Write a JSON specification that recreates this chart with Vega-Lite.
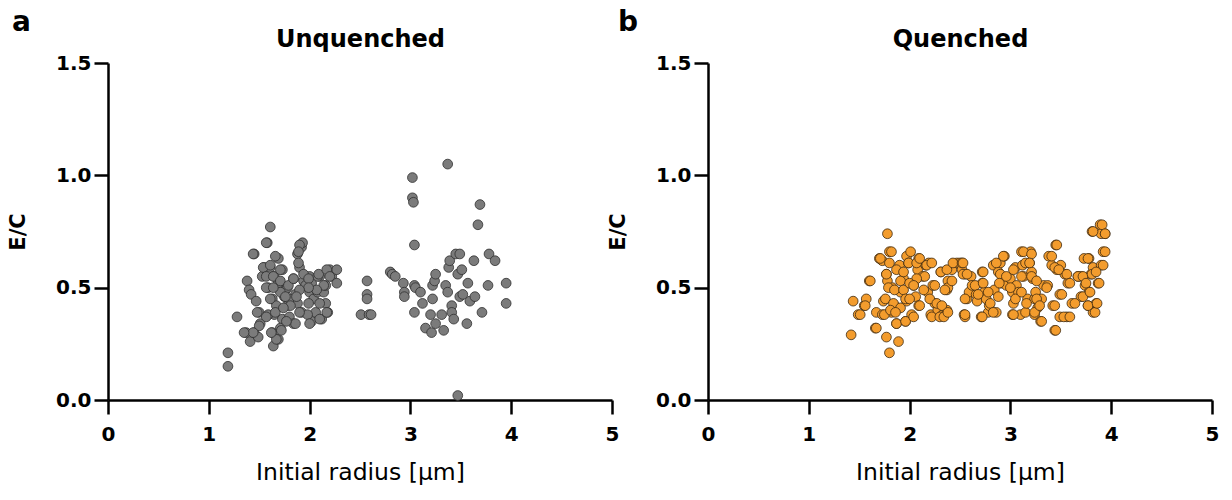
{
  "$schema": "https://vega.github.io/schema/vega-lite/v6.json",
  "background": "white",
  "padding": {"left": 7, "top": 9, "right": 5, "bottom": 5},
  "spacing": 96,
  "bounds": "flush",
  "datasets": {
    "unq": [
      {"r":1.19,"ec":0.21},{"r":1.19,"ec":0.15},{"r":1.28,"ec":0.37},{"r":1.38,"ec":0.53},{"r":1.40,"ec":0.49},{"r":1.42,"ec":0.47},{"r":1.45,"ec":0.65},{"r":1.47,"ec":0.44},{"r":1.37,"ec":0.30},{"r":1.41,"ec":0.26},{"r":1.45,"ec":0.30},{"r":1.49,"ec":0.28},{"r":1.50,"ec":0.39},{"r":1.51,"ec":0.34},{"r":1.53,"ec":0.55},{"r":1.55,"ec":0.59},{"r":1.58,"ec":0.70},{"r":1.61,"ec":0.77},{"r":1.59,"ec":0.50},{"r":1.63,"ec":0.45},{"r":1.65,"ec":0.38},{"r":1.63,"ec":0.30},{"r":1.64,"ec":0.24},{"r":1.69,"ec":0.27},{"r":1.69,"ec":0.63},{"r":1.61,"ec":0.59},{"r":1.65,"ec":0.55},{"r":1.73,"ec":0.58},{"r":1.69,"ec":0.52},{"r":1.76,"ec":0.49},{"r":1.75,"ec":0.46},{"r":1.73,"ec":0.36},{"r":1.71,"ec":0.32},{"r":1.78,"ec":0.42},{"r":1.80,"ec":0.37},{"r":1.84,"ec":0.34},{"r":1.86,"ec":0.47},{"r":1.88,"ec":0.65},{"r":1.90,"ec":0.59},{"r":1.92,"ec":0.68},{"r":1.93,"ec":0.70},{"r":1.88,"ec":0.43},{"r":1.92,"ec":0.39},{"r":1.94,"ec":0.53},{"r":1.96,"ec":0.51},{"r":2.00,"ec":0.55},{"r":2.02,"ec":0.52},{"r":2.00,"ec":0.48},{"r":2.04,"ec":0.45},{"r":2.02,"ec":0.35},{"r":2.08,"ec":0.48},{"r":2.10,"ec":0.55},{"r":2.12,"ec":0.36},{"r":2.14,"ec":0.48},{"r":2.16,"ec":0.43},{"r":2.16,"ec":0.51},{"r":2.18,"ec":0.39},{"r":2.20,"ec":0.58},{"r":2.22,"ec":0.55},{"r":2.27,"ec":0.58},{"r":2.27,"ec":0.52},{"r":2.06,"ec":0.39},{"r":1.98,"ec":0.38},{"r":2.08,"ec":0.55},{"r":1.84,"ec":0.54},{"r":1.78,"ec":0.50},{"r":1.80,"ec":0.45},{"r":1.71,"ec":0.48},{"r":1.67,"ec":0.42},{"r":1.59,"ec":0.38},
      {"r":1.57,"ec":0.70},{"r":1.44,"ec":0.65},{"r":1.66,"ec":0.64},{"r":1.90,"ec":0.69},{"r":1.89,"ec":0.66},{"r":1.54,"ec":0.59},{"r":1.61,"ec":0.60},{"r":1.71,"ec":0.58},{"r":1.89,"ec":0.61},{"r":1.57,"ec":0.55},{"r":1.64,"ec":0.55},{"r":1.57,"ec":0.50},{"r":1.64,"ec":0.50},{"r":1.61,"ec":0.45},{"r":1.71,"ec":0.53},{"r":1.79,"ec":0.51},{"r":1.84,"ec":0.54},{"r":1.94,"ec":0.56},{"r":1.99,"ec":0.54},{"r":2.09,"ec":0.56},{"r":2.17,"ec":0.58},{"r":2.20,"ec":0.55},{"r":2.14,"ec":0.51},{"r":2.07,"ec":0.49},{"r":1.99,"ec":0.50},{"r":1.90,"ec":0.49},{"r":1.87,"ec":0.46},{"r":1.99,"ec":0.43},{"r":2.10,"ec":0.43},{"r":2.17,"ec":0.39},{"r":2.10,"ec":0.36},{"r":2.00,"ec":0.34},{"r":1.90,"ec":0.39},{"r":1.86,"ec":0.34},{"r":1.77,"ec":0.35},{"r":1.72,"ec":0.31},{"r":1.67,"ec":0.27},{"r":1.62,"ec":0.30},{"r":1.66,"ec":0.39},{"r":1.57,"ec":0.37},{"r":1.50,"ec":0.33},{"r":1.48,"ec":0.39},{"r":1.44,"ec":0.30},{"r":1.35,"ec":0.30},{"r":1.76,"ec":0.46},{"r":1.81,"ec":0.42},{"r":1.74,"ec":0.41},
      {"r":2.57,"ec":0.53},{"r":2.57,"ec":0.47},{"r":2.57,"ec":0.45},{"r":2.51,"ec":0.38},{"r":2.59,"ec":0.38},{"r":2.61,"ec":0.38},
      {"r":2.80,"ec":0.57},{"r":2.82,"ec":0.56},{"r":2.85,"ec":0.55},{"r":2.93,"ec":0.52},{"r":2.94,"ec":0.48},{"r":2.94,"ec":0.46},{"r":3.02,"ec":0.99},{"r":3.02,"ec":0.90},{"r":3.03,"ec":0.88},{"r":3.04,"ec":0.69},{"r":3.04,"ec":0.51},{"r":3.04,"ec":0.39},{"r":3.05,"ec":0.50},{"r":3.10,"ec":0.48},{"r":3.12,"ec":0.43},{"r":3.15,"ec":0.32},{"r":3.20,"ec":0.38},{"r":3.21,"ec":0.30},{"r":3.22,"ec":0.45},{"r":3.22,"ec":0.51},{"r":3.24,"ec":0.53},{"r":3.25,"ec":0.56},{"r":3.25,"ec":0.34},{"r":3.31,"ec":0.38},{"r":3.33,"ec":0.31},{"r":3.35,"ec":0.51},{"r":3.37,"ec":1.05},{"r":3.38,"ec":0.59},{"r":3.39,"ec":0.62},{"r":3.37,"ec":0.48},{"r":3.41,"ec":0.42},{"r":3.41,"ec":0.39},{"r":3.43,"ec":0.36},{"r":3.45,"ec":0.65},{"r":3.49,"ec":0.65},{"r":3.47,"ec":0.02},{"r":3.47,"ec":0.56},{"r":3.49,"ec":0.46},{"r":3.51,"ec":0.58},{"r":3.52,"ec":0.47},{"r":3.56,"ec":0.34},{"r":3.57,"ec":0.52},{"r":3.59,"ec":0.44},{"r":3.63,"ec":0.62},{"r":3.64,"ec":0.46},{"r":3.67,"ec":0.78},{"r":3.69,"ec":0.87},{"r":3.71,"ec":0.39},{"r":3.78,"ec":0.65},{"r":3.77,"ec":0.51},{"r":3.84,"ec":0.62},{"r":3.95,"ec":0.52},{"r":3.95,"ec":0.43}
    ],
    "q": [
      {"r":1.42,"ec":0.29},{"r":1.44,"ec":0.44},{"r":1.49,"ec":0.38},{"r":1.55,"ec":0.42},{"r":1.57,"ec":0.45},{"r":1.60,"ec":0.53},{"r":1.66,"ec":0.32},{"r":1.67,"ec":0.39},{"r":1.70,"ec":0.63},{"r":1.73,"ec":0.62},{"r":1.73,"ec":0.38},{"r":1.74,"ec":0.44},{"r":1.77,"ec":0.28},{"r":1.78,"ec":0.74},{"r":1.80,"ec":0.66},{"r":1.80,"ec":0.21},{"r":1.77,"ec":0.56},{"r":1.78,"ec":0.53},{"r":1.80,"ec":0.61},{"r":1.82,"ec":0.39},{"r":1.83,"ec":0.50},{"r":1.85,"ec":0.42},{"r":1.87,"ec":0.34},{"r":1.89,"ec":0.26},{"r":1.90,"ec":0.60},{"r":1.91,"ec":0.48},{"r":1.94,"ec":0.54},{"r":1.96,"ec":0.35},{"r":1.97,"ec":0.64},{"r":1.97,"ec":0.44},{"r":1.99,"ec":0.61},{"r":2.01,"ec":0.66},{"r":2.02,"ec":0.38},{"r":2.04,"ec":0.51},{"r":2.06,"ec":0.46},{"r":2.08,"ec":0.58},{"r":2.09,"ec":0.63},{"r":2.09,"ec":0.42},{"r":2.13,"ec":0.55},{"r":2.16,"ec":0.60},{"r":2.18,"ec":0.48},{"r":2.19,"ec":0.61},{"r":2.21,"ec":0.38},{"r":2.23,"ec":0.51},{"r":2.25,"ec":0.43},{"r":2.28,"ec":0.40},{"r":2.31,"ec":0.57},{"r":2.33,"ec":0.38},{"r":2.37,"ec":0.40},{"r":2.37,"ec":0.49},{"r":2.38,"ec":0.53},{"r":2.42,"ec":0.58},{"r":2.47,"ec":0.61},{"r":2.50,"ec":0.61},{"r":2.52,"ec":0.58},{"r":2.54,"ec":0.38},{"r":2.55,"ec":0.56},{"r":2.57,"ec":0.45},{"r":2.59,"ec":0.48},{"r":2.61,"ec":0.55},{"r":2.62,"ec":0.51},{"r":2.66,"ec":0.47},{"r":2.67,"ec":0.44},{"r":2.71,"ec":0.37},{"r":2.72,"ec":0.57},{"r":2.72,"ec":0.52},{"r":2.74,"ec":0.48},{"r":2.76,"ec":0.45},{"r":2.78,"ec":0.39},{"r":2.79,"ec":0.42},{"r":2.83,"ec":0.60},{"r":2.84,"ec":0.49},{"r":2.86,"ec":0.39},{"r":2.88,"ec":0.57},{"r":2.90,"ec":0.61},{"r":2.91,"ec":0.52},{"r":2.94,"ec":0.64},{"r":2.96,"ec":0.51},{"r":3.00,"ec":0.54},{"r":3.02,"ec":0.38},{"r":3.02,"ec":0.48},{"r":3.03,"ec":0.43},{"r":3.05,"ec":0.59},{"r":3.06,"ec":0.51},{"r":3.08,"ec":0.48},{"r":3.10,"ec":0.38},{"r":3.11,"ec":0.66},{"r":3.12,"ec":0.60},{"r":3.13,"ec":0.55},{"r":3.15,"ec":0.39},{"r":3.17,"ec":0.45},{"r":3.19,"ec":0.61},{"r":3.20,"ec":0.66},{"r":3.21,"ec":0.57},{"r":3.22,"ec":0.54},{"r":3.24,"ec":0.45},{"r":3.24,"ec":0.38},{"r":3.25,"ec":0.48},{"r":3.27,"ec":0.41},{"r":3.30,"ec":0.35},{"r":3.31,"ec":0.45},{"r":3.33,"ec":0.51},{"r":3.37,"ec":0.51},{"r":3.38,"ec":0.64},{"r":3.41,"ec":0.60},{"r":3.42,"ec":0.42},{"r":3.44,"ec":0.31},{"r":3.45,"ec":0.69},{"r":3.46,"ec":0.58},{"r":3.49,"ec":0.47},{"r":3.49,"ec":0.37},{"r":3.50,"ec":0.60},{"r":3.54,"ec":0.56},{"r":3.56,"ec":0.37},{"r":3.57,"ec":0.52},{"r":3.61,"ec":0.43},{"r":3.67,"ec":0.55},{"r":3.70,"ec":0.55},{"r":3.70,"ec":0.46},{"r":3.73,"ec":0.63},{"r":3.74,"ec":0.51},{"r":3.77,"ec":0.42},{"r":3.78,"ec":0.63},{"r":3.78,"ec":0.48},{"r":3.80,"ec":0.56},{"r":3.81,"ec":0.75},{"r":3.82,"ec":0.39},{"r":3.82,"ec":0.59},{"r":3.85,"ec":0.43},{"r":3.87,"ec":0.52},{"r":3.89,"ec":0.78},{"r":3.90,"ec":0.60},{"r":3.90,"ec":0.74},{"r":3.92,"ec":0.66},{"r":3.94,"ec":0.74},
      {"r":1.82,"ec":0.66},{"r":1.71,"ec":0.63},{"r":1.61,"ec":0.53},{"r":1.56,"ec":0.42},{"r":1.51,"ec":0.38},{"r":1.67,"ec":0.32},{"r":1.75,"ec":0.38},{"r":1.87,"ec":0.34},{"r":1.96,"ec":0.35},{"r":2.04,"ec":0.37},
      {"r":1.76,"ec":0.45},{"r":1.84,"ec":0.43},{"r":1.79,"ec":0.50},{"r":1.85,"ec":0.49},{"r":1.91,"ec":0.53},{"r":1.94,"ec":0.49},{"r":1.99,"ec":0.61},{"r":2.07,"ec":0.61},{"r":2.10,"ec":0.63},{"r":2.17,"ec":0.60},{"r":2.22,"ec":0.61},{"r":2.15,"ec":0.55},{"r":2.07,"ec":0.54},{"r":2.00,"ec":0.52},{"r":2.04,"ec":0.51},{"r":2.14,"ec":0.49},{"r":2.20,"ec":0.45},{"r":2.10,"ec":0.42},{"r":2.27,"ec":0.43},{"r":2.32,"ec":0.42},{"r":2.22,"ec":0.37},{"r":2.30,"ec":0.37},{"r":2.34,"ec":0.37},{"r":2.38,"ec":0.39},{"r":2.31,"ec":0.57},{"r":2.25,"ec":0.51},{"r":1.91,"ec":0.41},{"r":1.96,"ec":0.45},{"r":2.00,"ec":0.45},{"r":1.81,"ec":0.40},{"r":1.86,"ec":0.39},{"r":1.77,"ec":0.56},{"r":1.87,"ec":0.58},{"r":1.94,"ec":0.57},
      {"r":2.37,"ec":0.58},{"r":2.43,"ec":0.61},{"r":2.52,"ec":0.61},{"r":2.53,"ec":0.56},{"r":2.38,"ec":0.50},{"r":2.42,"ec":0.53},{"r":2.35,"ec":0.49},{"r":2.55,"ec":0.37},
      {"r":2.53,"ec":0.61},{"r":2.57,"ec":0.56},{"r":2.55,"ec":0.45},{"r":2.55,"ec":0.38},{"r":2.65,"ec":0.51},{"r":2.68,"ec":0.47},{"r":2.73,"ec":0.57},{"r":2.73,"ec":0.52},{"r":2.78,"ec":0.48},{"r":2.80,"ec":0.43},{"r":2.72,"ec":0.37},{"r":2.83,"ec":0.39},{"r":2.86,"ec":0.61},{"r":2.90,"ec":0.56},{"r":2.93,"ec":0.64},{"r":2.89,"ec":0.52},{"r":2.88,"ec":0.46},{"r":2.96,"ec":0.55},{"r":3.00,"ec":0.50},{"r":3.03,"ec":0.58},{"r":3.05,"ec":0.45},{"r":3.03,"ec":0.38},{"r":3.13,"ec":0.66},{"r":3.15,"ec":0.61},{"r":3.11,"ec":0.55},{"r":3.11,"ec":0.48},{"r":3.16,"ec":0.43},{"r":3.21,"ec":0.65},{"r":3.19,"ec":0.61},{"r":3.21,"ec":0.55},{"r":3.26,"ec":0.53},{"r":3.26,"ec":0.45},{"r":3.24,"ec":0.39},{"r":3.31,"ec":0.35},{"r":3.29,"ec":0.42},{"r":3.36,"ec":0.50},{"r":3.41,"ec":0.64},{"r":3.46,"ec":0.69},{"r":3.44,"ec":0.59},{"r":3.48,"ec":0.58},{"r":3.44,"ec":0.42},{"r":3.51,"ec":0.47},{"r":3.53,"ec":0.37},{"r":3.59,"ec":0.37},{"r":3.45,"ec":0.31},{"r":3.56,"ec":0.56},{"r":3.59,"ec":0.52},{"r":3.64,"ec":0.43},{"r":3.67,"ec":0.55},{"r":3.72,"ec":0.55},{"r":3.75,"ec":0.52},{"r":3.72,"ec":0.46},{"r":3.77,"ec":0.63},{"r":3.81,"ec":0.56},{"r":3.79,"ec":0.48},{"r":3.77,"ec":0.42},{"r":3.84,"ec":0.39},{"r":3.86,"ec":0.43},{"r":3.88,"ec":0.52},{"r":3.85,"ec":0.57},{"r":3.92,"ec":0.60},{"r":3.94,"ec":0.66},{"r":3.82,"ec":0.75},{"r":3.91,"ec":0.78},{"r":3.94,"ec":0.74}
    ]
  },
  "hconcat": [
    {
      "width": 504,
      "height": 337,
      "title": {"text": "a", "anchor": "start", "frame": "group", "font": "DejaVu Sans", "fontSize": 28, "fontWeight": "bold", "color": "black", "dx": -96, "offset": -10},
      "data": {"name": "unq"},
      "resolve": {"axis": {"x": "independent"}},
      "layer": [
        {
          "mark": {"type": "point", "filled": true, "size": 95, "fill": "#7b7b7b", "stroke": "#2e2e2e", "strokeWidth": 0.8, "opacity": 1},
          "encoding": {
            "x": {"field": "r", "type": "quantitative", "scale": {"domain": [0, 5], "nice": false}, "axis": {"orient": "bottom", "values": [0, 1, 2, 3, 4, 5], "labelFlush": false, "title": "Initial radius [μm]", "labelPadding": 10, "titlePadding": 16, "titleFontSize": 23.5, "titleFontWeight": "normal"}},
            "y": {"field": "ec", "type": "quantitative", "scale": {"domain": [0, 1.5], "nice": false}, "axis": {"values": [0, 0.5, 1, 1.5], "format": ".1f", "title": "E/C", "labelPadding": 3, "titlePadding": 27, "titleFontSize": 21, "titleFontWeight": "bold"}}
          }
        },
        {
          "mark": {"type": "point", "opacity": 0},
          "encoding": {
            "x": {"field": "r", "type": "quantitative", "scale": {"domain": [0, 5], "nice": false}, "axis": {"orient": "top", "domain": false, "ticks": false, "labels": false, "title": "Unquenched", "titleFontSize": 24, "titleFontWeight": "bold", "titlePadding": 12}}
          }
        }
      ]
    },
    {
      "width": 504,
      "height": 337,
      "title": {"text": "b", "anchor": "start", "frame": "group", "font": "DejaVu Sans", "fontSize": 28, "fontWeight": "bold", "color": "black", "dx": -90, "offset": -10},
      "data": {"name": "q"},
      "resolve": {"axis": {"x": "independent"}},
      "layer": [
        {
          "mark": {"type": "point", "filled": true, "size": 95, "fill": "#f39c2d", "stroke": "#3d2a10", "strokeWidth": 0.8, "opacity": 1},
          "encoding": {
            "x": {"field": "r", "type": "quantitative", "scale": {"domain": [0, 5], "nice": false}, "axis": {"orient": "bottom", "values": [0, 1, 2, 3, 4, 5], "labelFlush": false, "title": "Initial radius [μm]", "labelPadding": 10, "titlePadding": 16, "titleFontSize": 23.5, "titleFontWeight": "normal"}},
            "y": {"field": "ec", "type": "quantitative", "scale": {"domain": [0, 1.5], "nice": false}, "axis": {"values": [0, 0.5, 1, 1.5], "format": ".1f", "title": "E/C", "labelPadding": 3, "titlePadding": 27, "titleFontSize": 21, "titleFontWeight": "bold"}}
          }
        },
        {
          "mark": {"type": "point", "opacity": 0},
          "encoding": {
            "x": {"field": "r", "type": "quantitative", "scale": {"domain": [0, 5], "nice": false}, "axis": {"orient": "top", "domain": false, "ticks": false, "labels": false, "title": "Quenched", "titleFontSize": 24, "titleFontWeight": "bold", "titlePadding": 12}}
          }
        }
      ]
    }
  ],
  "config": {
    "view": {"stroke": null},
    "axis": {
      "grid": false,
      "domainColor": "black",
      "domainWidth": 2.5,
      "tickColor": "black",
      "tickWidth": 2.5,
      "tickSize": 14,
      "labelFont": "DejaVu Sans",
      "labelFontSize": 20,
      "labelFontWeight": "bold",
      "labelColor": "black",
      "titleFont": "DejaVu Sans",
      "titleColor": "black"
    }
  }
}
